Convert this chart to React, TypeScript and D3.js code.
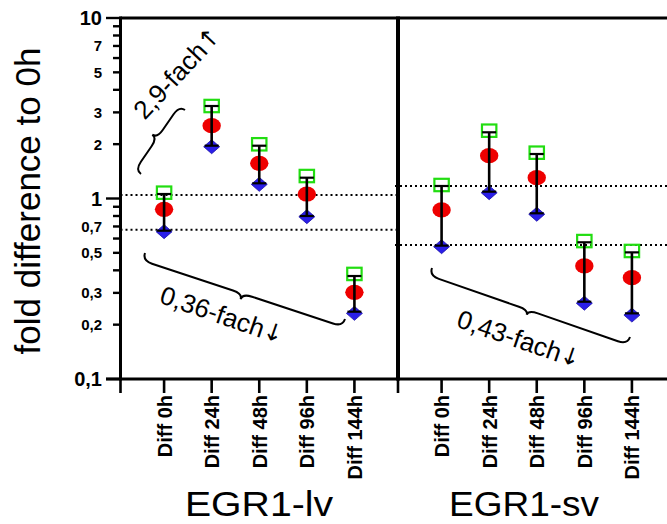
import React from 'react';
import * as d3 from 'd3';

// ---------- data ----------
const categories = ['Diff 0h', 'Diff 24h', 'Diff 48h', 'Diff 96h', 'Diff 144h'];
const panelNames = ['EGR1-lv', 'EGR1-sv'];

const lvMean = [0.871, 2.531, 1.567, 1.059, 0.302];
const lvMax = [1.077, 3.254, 1.997, 1.332, 0.382];
const lvMin = [0.655, 1.936, 1.198, 0.793, 0.231];
const lvErrHigh = [1.059, 3.254, 1.961, 1.304, 0.372];
const lvErrLow = [0.663, 1.961, 1.214, 0.8, 0.236];

const svMean = [0.864, 1.726, 1.304, 0.423, 0.364];
const svMax = [1.188, 2.375, 1.794, 0.581, 0.512];
const svMin = [0.541, 1.077, 0.818, 0.263, 0.226];
const svErrHigh = [1.173, 2.327, 1.764, 0.572, 0.503];
const svErrLow = [0.548, 1.091, 0.828, 0.268, 0.231];

const lvRefLines = [1.046, 0.672];
const svRefLines = [1.173, 0.553];

const majorTickValues = [0.1, 1, 10];
const majorTickLabels = ['0,1', '1', '10'];
const minorLabelValues = [0.2, 0.3, 0.5, 0.7, 2, 3, 5, 7];
const minorLabelTexts = ['0,2', '0,3', '0,5', '0,7', '2', '3', '5', '7'];

const yTitle = 'fold difference to 0h';
const annotationTexts = ['2,9-fach', '0,36-fach', '0,43-fach'];
const annotationArrows = ['↑', '↓', '↓'];

// ---------- layout ----------
const W = 667;
const H = 524;
const TOP = 18;
const BOTTOM = 379;
const AXIS_X = 120.5;
const PANEL_W = 277.5;
const FONT = '"Liberation Sans", Arial, Helvetica, sans-serif';

const y = d3.scaleLog().domain([0.1, 10]).range([BOTTOM, TOP]);

const panels = [
  { name: panelNames[0], left: AXIS_X, mean: lvMean, max: lvMax, min: lvMin, hi: lvErrHigh, lo: lvErrLow, refs: lvRefLines, labelX: 259, labelW: 148 },
  { name: panelNames[1], left: AXIS_X + PANEL_W, mean: svMean, max: svMax, min: svMin, hi: svErrHigh, lo: svErrLow, refs: svRefLines, labelX: 524, labelW: 150 },
];

function bracePath(x1: number, y1: number, x2: number, y2: number, h: number, r: number) {
  const dx = x2 - x1;
  const dy = y2 - y1;
  const L = Math.sqrt(dx * dx + dy * dy);
  const ang = (Math.atan2(dy, dx) * 180) / Math.PI;
  const c = 10;
  const m = L / 2;
  const d = `M0,0 Q0,${r} ${c},${r} L${m - c},${r} Q${m},${r} ${m},${h} Q${m},${r} ${m + c},${r} L${L - c},${r} Q${L},${r} ${L},0`;
  return { d, transform: `translate(${x1},${y1}) rotate(${ang})` };
}

const braces = [
  bracePath(185, 110, 141, 174, 13, 7),
  bracePath(145, 253, 345, 319, 14, 8),
  bracePath(432, 268, 630, 337, 13, 8),
];

const annotationPos = [
  { x: 177, y: 73, rot: -47 },
  { x: 222, y: 315, rot: 19 },
  { x: 519, y: 339, rot: 19 },
];

export default function App() {
  const allTicks = y.ticks();
  return (
    <svg width={W} height={H} style={{ position: 'absolute', left: 0, top: 0, background: '#fff' }} fontFamily={FONT}>
      <rect x={0} y={0} width={W} height={H} fill="#fff" />

      {/* y title */}
      <text transform={`translate(40,201) rotate(-90)`} textAnchor="middle" fontSize={35} fill="#000">
        {yTitle}
      </text>

      {/* y ticks */}
      {allTicks.map((t, i) => {
        const isMajor = majorTickValues.some((m) => Math.abs(m - t) < 1e-9);
        return (
          <line key={'yt' + i} x1={isMajor ? 106 : 113} x2={AXIS_X} y1={y(t)} y2={y(t)} stroke="#000" strokeWidth={2.4} />
        );
      })}
      {majorTickValues.map((v, i) => (
        <text key={'ml' + i} x={102} y={y(v)} dy="0.36em" textAnchor="end" fontSize={20} fontWeight="bold" fill="#000">
          {majorTickLabels[i]}
        </text>
      ))}
      {minorLabelValues.map((v, i) => (
        <text key={'nl' + i} x={102} y={y(v)} dy="0.36em" textAnchor="end" fontSize={15} fontWeight="bold" fill="#000">
          {minorLabelTexts[i]}
        </text>
      ))}

      {panels.map((p, pi) => {
        const x = d3.scalePoint<string>().domain(categories).range([p.left, p.left + PANEL_W]).padding(0.916);
        const refX1 = pi === 0 ? p.left : p.left - 3;
        const refX2 = pi === 0 ? p.left + PANEL_W : W;
        return (
          <g key={'p' + pi}>
            {/* reference dotted lines */}
            {p.refs.map((v, i) => (
              <line key={'r' + i} x1={refX1} x2={refX2} y1={y(v)} y2={y(v)} stroke="#000" strokeWidth={2} strokeDasharray="2 3" />
            ))}
            {/* markers */}
            {categories.map((c, i) => {
              const cx = x(c) as number;
              const dy = y(p.min[i]);
              return (
                <g key={'m' + i}>
                  <ellipse cx={cx} cy={y(p.mean[i])} rx={9.2} ry={7.6} fill="#ee0000" />
                  <rect x={cx - 7.2} y={y(p.max[i]) - 6.2} width={14.4} height={12.4} fill="none" stroke="#22dd11" strokeWidth={2.2} />
                  <path
                    d={`M${cx},${dy - 7} L${cx + 8},${dy} L${cx},${dy + 7} L${cx - 8},${dy} Z`}
                    fill="#2a1ee8"
                    stroke="#1a10a8"
                    strokeWidth={0.8}
                  />
                </g>
              );
            })}
            {/* error bars */}
            {categories.map((c, i) => {
              const cx = x(c) as number;
              return (
                <g key={'e' + i} stroke="#000">
                  <line x1={cx} x2={cx} y1={y(p.hi[i])} y2={y(p.lo[i])} strokeWidth={2.6} />
                  <line x1={cx - 7} x2={cx + 7} y1={y(p.hi[i])} y2={y(p.hi[i])} strokeWidth={2.2} />
                  <line x1={cx - 7} x2={cx + 7} y1={y(p.lo[i])} y2={y(p.lo[i])} strokeWidth={2.2} />
                </g>
              );
            })}
            {/* x ticks */}
            <line x1={p.left} x2={p.left} y1={BOTTOM} y2={393} stroke="#000" strokeWidth={2.6} />
            {categories.map((c, i) => {
              const cx = x(c) as number;
              return (
                <g key={'xt' + i}>
                  <line x1={cx} x2={cx} y1={BOTTOM} y2={393} stroke="#000" strokeWidth={2.6} />
                  <text transform={`translate(${cx + 7.5},395) rotate(-90)`} textAnchor="end" fontSize={20} fontWeight="bold" fill="#000">
                    {c}
                  </text>
                </g>
              );
            })}
            {/* panel name */}
            <text
              x={p.labelX}
              y={516}
              textAnchor="middle"
              fontSize={35.5}
              textLength={p.labelW}
              lengthAdjust="spacingAndGlyphs"
              fill="#000"
            >
              {p.name}
            </text>
          </g>
        );
      })}

      {/* frame */}
      <line x1={AXIS_X} x2={W} y1={TOP} y2={TOP} stroke="#000" strokeWidth={3} />
      <line x1={106} x2={W} y1={BOTTOM} y2={BOTTOM} stroke="#000" strokeWidth={3} />
      <line x1={AXIS_X} x2={AXIS_X} y1={TOP - 1.5} y2={BOTTOM + 1.5} stroke="#000" strokeWidth={3} />
      <line x1={AXIS_X + PANEL_W} x2={AXIS_X + PANEL_W} y1={TOP - 1.5} y2={BOTTOM + 1.5} stroke="#000" strokeWidth={4} />

      {/* braces */}
      {braces.map((b, i) => (
        <path key={'b' + i} d={b.d} transform={b.transform} fill="none" stroke="#000" strokeWidth={2} />
      ))}
      {/* annotation texts */}
      {annotationTexts.map((t, i) => (
        <text
          key={'a' + i}
          transform={`translate(${annotationPos[i].x},${annotationPos[i].y}) rotate(${annotationPos[i].rot})`}
          textAnchor="middle"
          dominantBaseline="central"
          fontSize={26}
          fill="#000"
        >
          {t}
          <tspan fontFamily='"DejaVu Sans", sans-serif' fontSize={24}>
            {annotationArrows[i]}
          </tspan>
        </text>
      ))}
    </svg>
  );
}
